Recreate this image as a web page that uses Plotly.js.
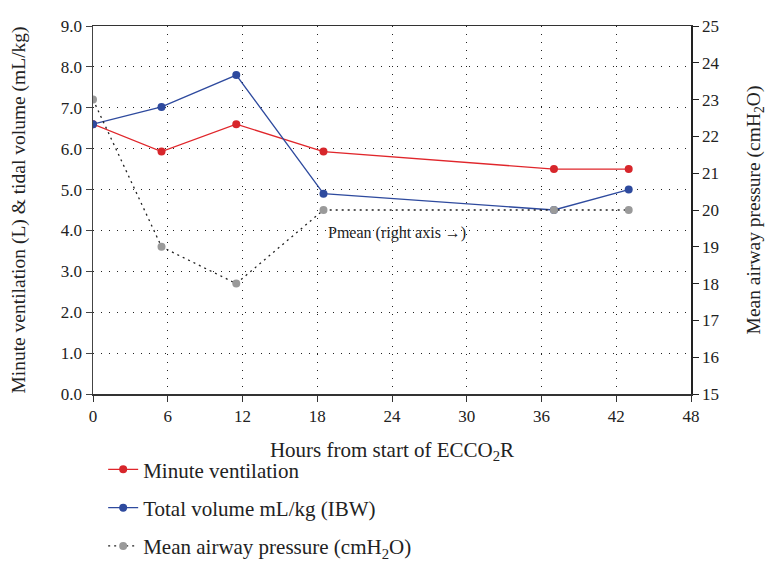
<!DOCTYPE html>
<html><head><meta charset="utf-8">
<script src="https://cdn.plot.ly/plotly-3.0.1.min.js"></script>
<style>html,body{margin:0;padding:0;background:#fff}</style>
</head><body>
<div id="chart" style="width:767px;height:582px"></div>
<script>
const hours = [0, 5.5, 11.5, 18.5, 37, 43];
const minuteVentilation = [6.6, 5.93, 6.6, 5.93, 5.5, 5.5];
const tidalVolume = [6.6, 7.02, 7.8, 4.9, 4.5, 5.0];
const meanAirwayPressure = [23, 19, 18, 20, 20, 20];
const xTicks = [0, 6, 12, 18, 24, 30, 36, 42, 48];

const font = 'Liberation Serif';
const traces = [
  {x: hours, y: meanAirwayPressure, yaxis: 'y2', mode: 'lines+markers', name: 'Mean airway pressure (cmH<sub>2</sub>O)',
   line: {color: '#222', width: 1.3, dash: '2px,4px'}, marker: {color: '#9a9a9a', size: 8}, legendgroup: 'c', legendrank: 3},
  {x: hours, y: minuteVentilation, mode: 'lines+markers', name: 'Minute ventilation',
   line: {color: '#e0262b', width: 1.3}, marker: {color: '#d7262b', size: 8}, legendgroup: 'a', legendrank: 1},
  {x: hours, y: tidalVolume, mode: 'lines+markers', name: 'Total volume mL/kg (IBW)',
   line: {color: '#2e4a9e', width: 1.3}, marker: {color: '#2e4a9e', size: 8}, legendgroup: 'b', legendrank: 2}
];
const layout = {
  width: 767, height: 582,
  margin: {l: 93, r: 76, t: 26, b: 188},
  paper_bgcolor: '#fff', plot_bgcolor: '#fff',
  font: {family: font, size: 17, color: '#222'},
  showlegend: true,
  legend: {x: 0.017, xanchor: 'left', y: -0.15, yanchor: 'top', orientation: 'v',
           font: {size: 21, family: font}, tracegroupgap: 8, traceorder: 'grouped'},
  xaxis: {range: [0, 48], tickvals: xTicks, ticktext: xTicks.map(String), showline: true, linecolor: '#333', linewidth: 1.5,
          mirror: true, ticks: 'outside', ticklen: 6, tickcolor: '#333', showgrid: true, gridcolor: '#222', griddash: '1px,7px',
          gridwidth: 1, zeroline: false, tickfont: {size: 17, family: font},
          title: {text: 'Hours from start of ECCO<sub>2</sub>R', font: {size: 21, family: font}, standoff: 17}},
  yaxis: {range: [0, 9], dtick: 1, tickformat: '.1f', showline: true, linecolor: '#444', linewidth: 1.5,
          ticks: 'outside', ticklen: 6, tickcolor: '#444', showgrid: true, gridcolor: '#222', griddash: '1px,7px',
          zeroline: false, tickfont: {size: 17, family: font},
          title: {text: 'Minute ventilation (L) & tidal volume (mL/kg)', font: {size: 19.5, family: font}, standoff: 30}},
  yaxis2: {range: [15, 25], dtick: 1, overlaying: 'y', side: 'right', showline: true, linecolor: '#222', linewidth: 1.5,
           ticks: 'outside', ticklen: 6, tickcolor: '#222', showgrid: false, zeroline: false, tickfont: {size: 17, family: font},
           title: {text: 'Mean airway pressure (cmH<sub>2</sub>O)', font: {size: 19.5, family: font}, standoff: 29}},
  annotations: [{x: 24.4, y: 3.93, xref: 'x', yref: 'y', text: 'Pmean (right axis →)', showarrow: false,
                 font: {size: 16, family: font, color: '#222'}}]
};
Plotly.newPlot('chart', traces, layout, {displayModeBar: false, staticPlot: true});
</script>
</body></html>
